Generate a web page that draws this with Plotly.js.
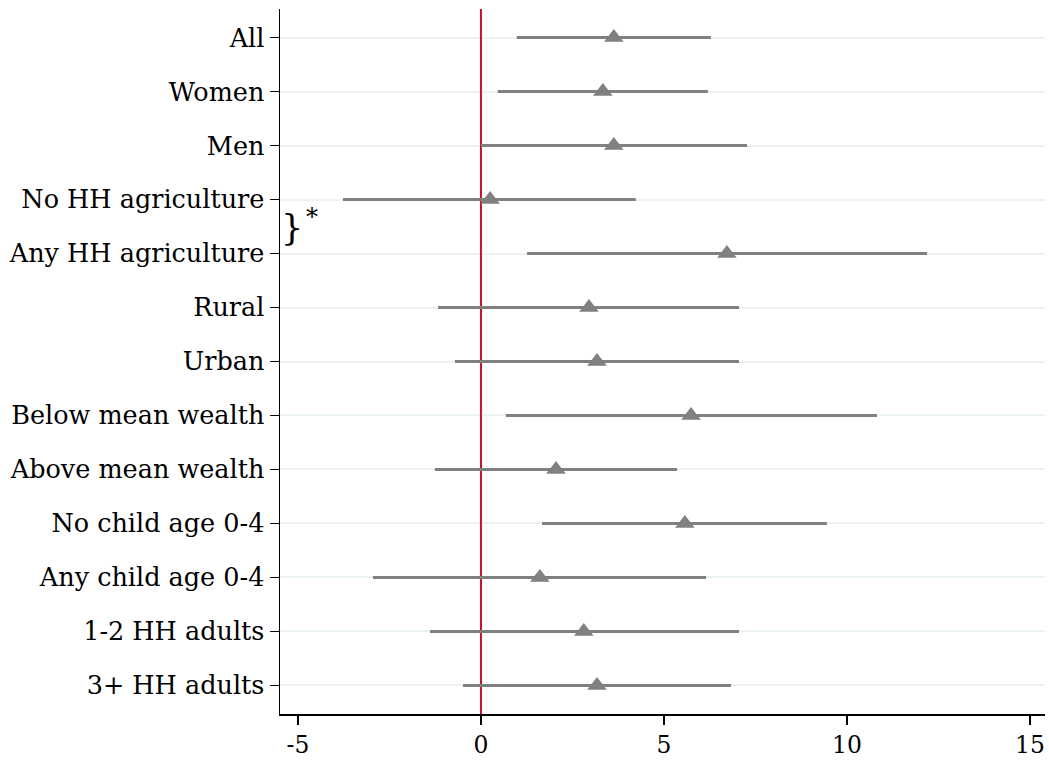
<!DOCTYPE html>
<html><head><meta charset="utf-8">
<script src="https://cdn.plot.ly/plotly-3.0.1.min.js"></script>
<style>body{margin:0;background:#fff}#c{width:1049px;height:761px}</style>
</head><body><div id="c"></div>
<script>
const categories = ["All","Women","Men","No HH agriculture","Any HH agriculture","Rural","Urban","Below mean wealth","Above mean wealth","No child age 0-4","Any child age 0-4","1-2 HH adults","3+ HH adults"];
const estimates = [3.63,3.33,3.63,0.25,6.72,2.95,3.17,5.74,2.05,5.57,1.61,2.81,3.17];
const ciLow = [0.98,0.46,0.0,-3.77,1.26,-1.17,-0.71,0.68,-1.26,1.67,-2.95,-1.39,-0.49];
const ciHigh = [6.28,6.20,7.27,4.23,12.19,7.05,7.05,10.82,5.36,9.45,6.15,7.05,6.83];
const xTicks = [-5,0,5,10,15];
const refValue = 0;

const idx = categories.map((_,i)=>i);
const yRange = [12.53,-0.53];
const refTrace = {
  type:'scatter', mode:'lines',
  x:[refValue, refValue], y:[yRange[1], yRange[0]],
  line:{color:'#c8102e', width:2}, hoverinfo:'skip'
};
const trace = {
  type:'scatter', mode:'markers',
  x: estimates, y: idx,
  marker:{symbol:'triangle-up', size:17, color:'#808080'},
  error_x:{type:'data', symmetric:false,
    array: estimates.map((e,i)=>ciHigh[i]-e),
    arrayminus: estimates.map((e,i)=>e-ciLow[i]),
    color:'#808080', thickness:3, width:0},
  hoverinfo:'x+y'
};
const fam = '"DejaVu Serif","Liberation Serif",serif';
const yfont = {family:fam, size:25.5, color:'#000'};
const xfont = {family:fam, size:23.5, color:'#000'};
const layout = {
  width:1049, height:761,
  margin:{l:280, r:4, t:9, b:47},
  paper_bgcolor:'#fff', plot_bgcolor:'#fff',
  showlegend:false,
  font: yfont,
  xaxis:{range:[-5.49,15.41], tickvals:xTicks, ticktext:xTicks.map(String),
    showgrid:false, zeroline:false, showline:true, linecolor:'#000', linewidth:1.5,
    ticks:'outside', ticklen:9, tickwidth:1.5, tickcolor:'#000', tickfont:xfont},
  yaxis:{range:yRange, tickvals:idx, ticktext:categories,
    showgrid:true, gridcolor:'#eaf2f3', gridwidth:2, zeroline:false,
    showline:true, linecolor:'#000', linewidth:1.5,
    ticks:'outside', ticklen:9, tickwidth:1.5, tickcolor:'#000', tickfont:yfont},
  annotations:[
    {xref:'paper', yref:'y', x:0.0, y:3.52, text:'}', showarrow:false, xanchor:'left', yanchor:'middle',
     borderpad:0, font:{family:fam, size:35, color:'#000'}},
    {xref:'paper', yref:'y', x:0.033, y:3.32, text:'*', showarrow:false, xanchor:'left', yanchor:'middle',
     borderpad:0, font:{family:fam, size:24, color:'#000'}}
  ]
};
Plotly.newPlot('c',[refTrace, trace],layout,{displayModeBar:false,staticPlot:true});
</script></body></html>
